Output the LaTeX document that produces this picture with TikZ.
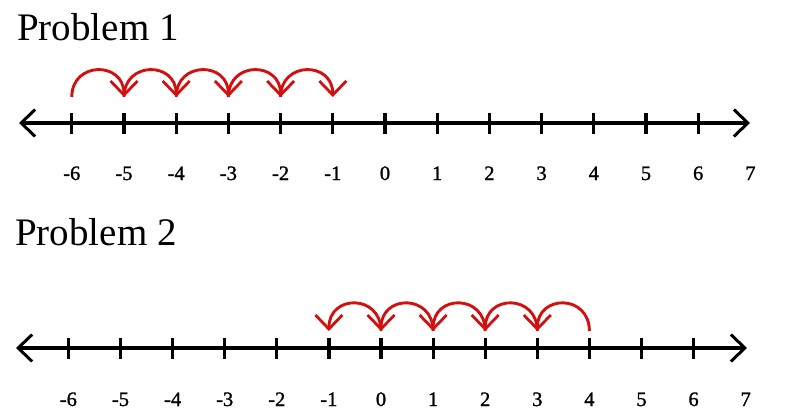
\documentclass[tikz,border=0pt]{standalone}
\usepackage{fontspec}
\setmainfont{Liberation Serif}
\newfontfamily\labfont[FakeBold=1.3]{Liberation Serif}
\usetikzlibrary{arrows.meta}
\definecolor{hopred}{RGB}{210,16,16}
\tikzset{
  axisline/.style={line width=3.2pt, black, {Straight Barb[length=14pt,width=27pt,line width=3pt]}-{Straight Barb[length=14pt,width=27pt,line width=3pt]}},
  tickmark/.style={line width=3.2pt, black},
  hop/.style={line width=2.9pt, hopred, -{Straight Barb[length=14pt,width=27pt,line width=2.8pt]}},
  numlabel/.style={anchor=base, inner sep=0pt, font=\labfont\fontsize{20.5}{20.5}\selectfont},
  title/.style={anchor=base west, inner sep=0pt, font=\fontsize{39}{39}\selectfont}
}
\begin{document}
\begin{tikzpicture}[x=1pt, y=-1pt]
\useasboundingbox (0,0) rectangle (800,412);
% ---------------- Problem 1 ----------------
\node[title] (t1) at (17,41) {Problem 1};
\coordinate (L1) at (19,123);
\coordinate (R1) at (750,123);
\draw[axisline] (L1) -- (R1);
\foreach \i in {-6,...,6} {
  \coordinate (a\i) at ({385+52.2*\i},123);
  \draw[tickmark] ([yshift=-10.5pt]a\i) -- ([yshift=10.5pt]a\i);
  \coordinate (p\i) at ({385+52.2*\i},97);
}
\foreach \i in {-6,...,7} {
  \node[numlabel] (la\i) at ({385+52.2*\i},180) {\i};
}
\foreach \i/\j in {-6/-5,-5/-4,-4/-3,-3/-2,-2/-1} {
  \draw[hop] (p\i) .. controls +(0,-36) and +(0,-36) .. (p\j);
}
% ---------------- Problem 2 ----------------
\node[title] (t2) at (15,245) {Problem 2};
\coordinate (L2) at (16,348);
\coordinate (R2) at (747,348);
\draw[axisline] (L2) -- (R2);
\foreach \i in {-6,...,6} {
  \coordinate (b\i) at ({381+52.1*\i},348);
  \draw[tickmark] ([yshift=-10.5pt]b\i) -- ([yshift=10.5pt]b\i);
  \coordinate (q\i) at ({381+52.1*\i},331);
}
\foreach \i in {-6,...,7} {
  \node[numlabel] (lb\i) at ({381+52.1*\i},406) {\i};
}
\foreach \i/\j in {4/3,3/2,2/1,1/0,0/-1} {
  \draw[hop] (q\i) .. controls +(0,-37) and +(0,-37) .. (q\j);
}
\end{tikzpicture}
\end{document}
